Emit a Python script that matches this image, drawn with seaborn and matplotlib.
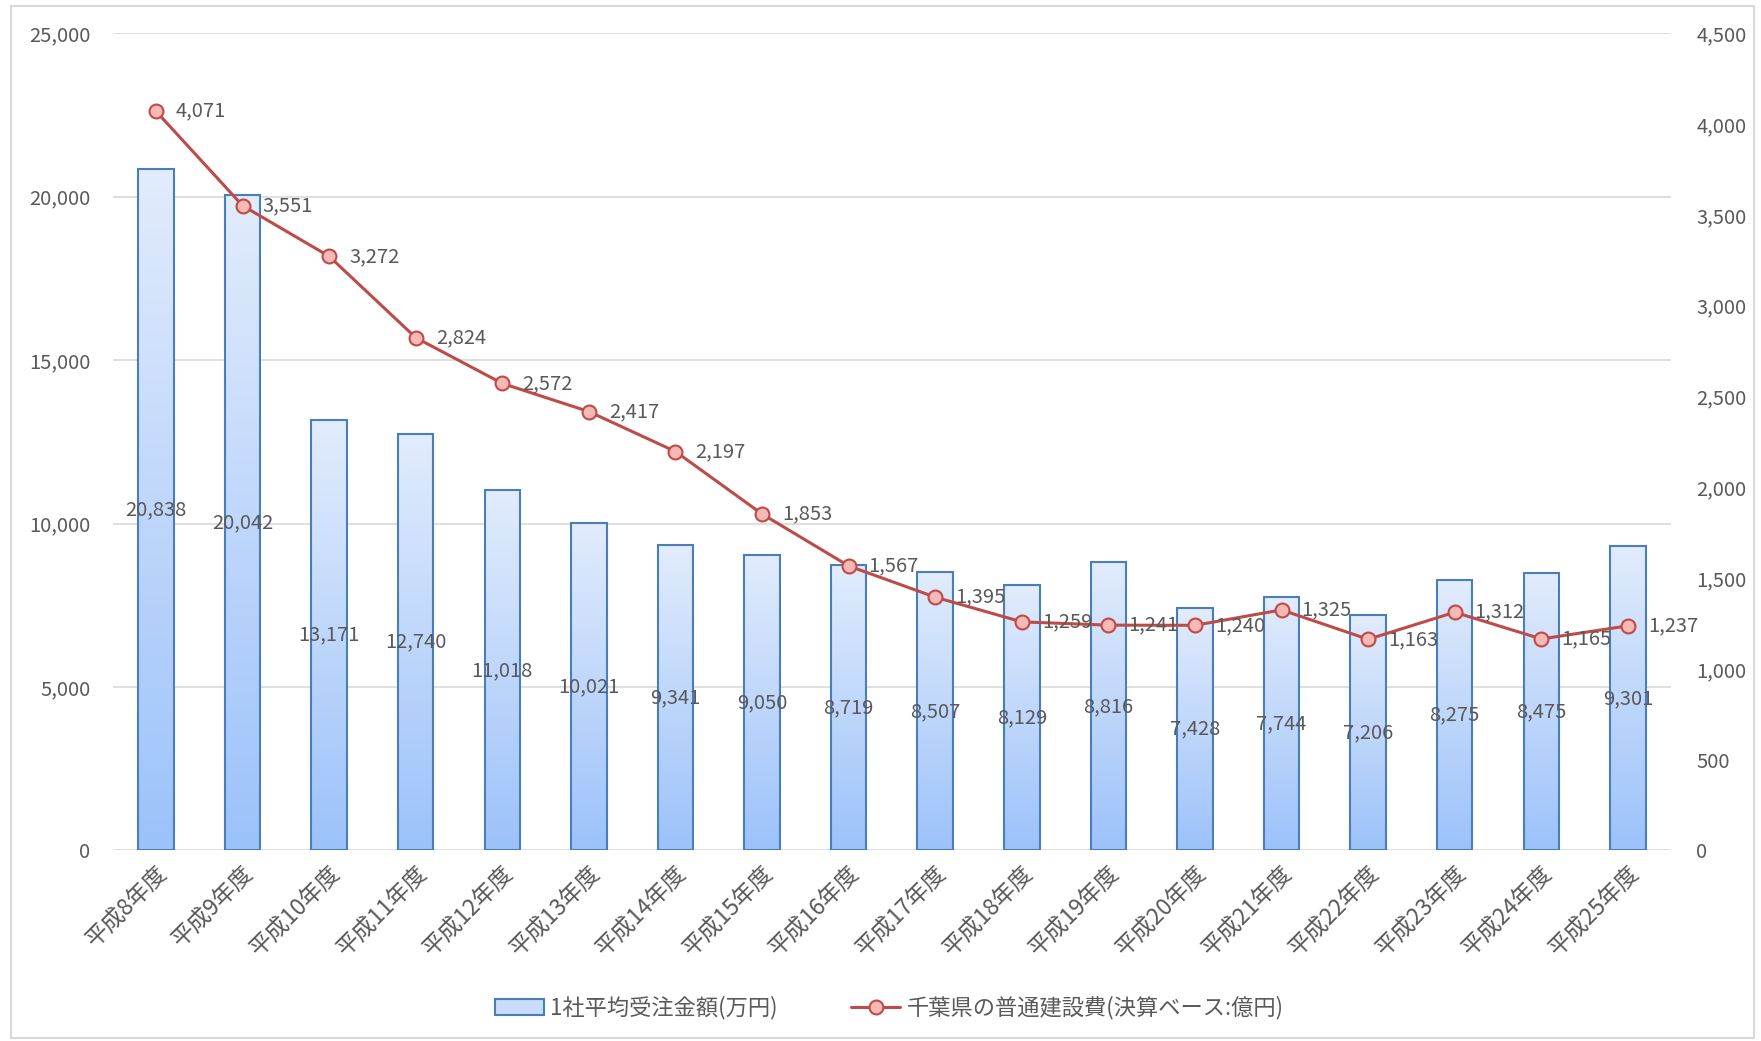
import numpy as np
import pandas as pd
import matplotlib
matplotlib.use("Agg")
import matplotlib.pyplot as plt
import seaborn as sns
from matplotlib.patches import Rectangle, Patch
from matplotlib.lines import Line2D
from matplotlib.colors import LinearSegmentedColormap

categories = ["平成8年度", "平成9年度", "平成10年度", "平成11年度", "平成12年度", "平成13年度",
              "平成14年度", "平成15年度", "平成16年度", "平成17年度", "平成18年度", "平成19年度",
              "平成20年度", "平成21年度", "平成22年度", "平成23年度", "平成24年度", "平成25年度"]
avg_orders = [20838, 20042, 13171, 12740, 11018, 10021, 9341, 9050, 8719, 8507, 8129, 8816,
              7428, 7744, 7206, 8275, 8475, 9301]
construction = [4071, 3551, 3272, 2824, 2572, 2417, 2197, 1853, 1567, 1395, 1259, 1241,
                1240, 1325, 1163, 1312, 1165, 1237]
bar_label = "1社平均受注金額(万円)"
line_label = "千葉県の普通建設費(決算ベース:億円)"
left_ticks = [0, 5000, 10000, 15000, 20000, 25000]
right_ticks = [0, 500, 1000, 1500, 2000, 2500, 3000, 3500, 4000, 4500]

sns.set_theme(style="white")
plt.rcParams['font.family'] = ['Noto Sans CJK JP', 'DejaVu Sans']

TXT = "#595959"
EDGE = "#4a7ebb"
LINE = "#be4b48"
MFACE = "#f6b9b6"
NUMFS = 14.5

fig = plt.figure(figsize=(17.61, 10.41), dpi=100)
ax = fig.add_axes([0.064, 0.183, 0.885, 0.785])

df = pd.DataFrame({"cat": categories, "val": avg_orders})
sns.barplot(data=df, x="cat", y="val", ax=ax, width=0.41, facecolor="none",
            edgecolor=EDGE, linewidth=1.5, zorder=3)

cmap = LinearSegmentedColormap.from_list("g", ["#9cc2fa", "#e2ecfc"])
grad = np.linspace(0, 1, 256).reshape(-1, 1)
for p in ax.patches:
    x0, y0 = p.get_x(), p.get_y()
    w, h = p.get_width(), p.get_height()
    im = ax.imshow(grad, cmap=cmap, origin="lower", aspect="auto",
                   extent=[x0, x0 + w, y0, y0 + h], zorder=2, interpolation="bilinear")
    im.set_clip_path(p)

ax.set_xlim(-0.5, len(categories) - 0.5)
ax.set_ylim(0, 25000)
ax.set_yticks(left_ticks)
ax.set_yticklabels([f"{v:,}" for v in left_ticks])
ax.yaxis.grid(True, color="#d9d9d9", linewidth=1.2)
ax.set_axisbelow(True)
for s in ax.spines.values():
    s.set_visible(False)
ax.set_xlabel("")
ax.set_ylabel("")
ax.tick_params(axis="y", length=0, labelsize=NUMFS, labelcolor=TXT, pad=16)
ax.tick_params(axis="x", length=0, labelsize=16.5, labelcolor=TXT, pad=8)
plt.setp(ax.get_xticklabels(), rotation=45, ha="right", rotation_mode="anchor")

for i, v in enumerate(avg_orders):
    ax.text(i, v / 2, f"{v:,}", ha="center", va="center", fontsize=NUMFS, color=TXT, zorder=4)

ax2 = ax.twinx()
ldf = pd.DataFrame({"x": np.arange(len(categories)), "y": construction})
sns.lineplot(data=ldf, x="x", y="y", ax=ax2, color=LINE, linewidth=2.2, marker="o",
             markersize=10, markerfacecolor=MFACE, markeredgecolor=LINE, markeredgewidth=1.5)
ax2.set_ylim(0, 4500)
ax2.set_yticks(right_ticks)
ax2.set_yticklabels([f"{v:,}" for v in right_ticks])
ax2.set_xlim(-0.5, len(categories) - 0.5)
ax2.grid(False)
for s in ax2.spines.values():
    s.set_visible(False)
ax2.set_xlabel("")
ax2.set_ylabel("")
ax2.tick_params(axis="y", length=0, labelsize=NUMFS, labelcolor=TXT, pad=18)

for i, v in enumerate(construction):
    ax2.annotate(f"{v:,}", (i, v), xytext=(20, 0), textcoords="offset pixels",
                 ha="left", va="center", fontsize=NUMFS, color=TXT)

handles = [Patch(facecolor="#c9dcfb", edgecolor=EDGE, linewidth=1.5),
           Line2D([0], [0], color=LINE, linewidth=2.2, marker="o", markersize=10,
                  markerfacecolor=MFACE, markeredgecolor=LINE, markeredgewidth=1.5)]
fig.legend(handles, [bar_label, line_label], loc="center", bbox_to_anchor=(0.505, 0.032),
           ncol=2, frameon=False, fontsize=16, labelcolor=TXT, columnspacing=3.3,
           handlelength=2.2, handletextpad=0.3)

fig.patches.append(Rectangle((0.006, 0.003), 0.99, 0.991, transform=fig.transFigure,
                             fill=False, edgecolor="#d9d9d9", linewidth=1.5))

fig.savefig("out.png", dpi=100, facecolor="white")
